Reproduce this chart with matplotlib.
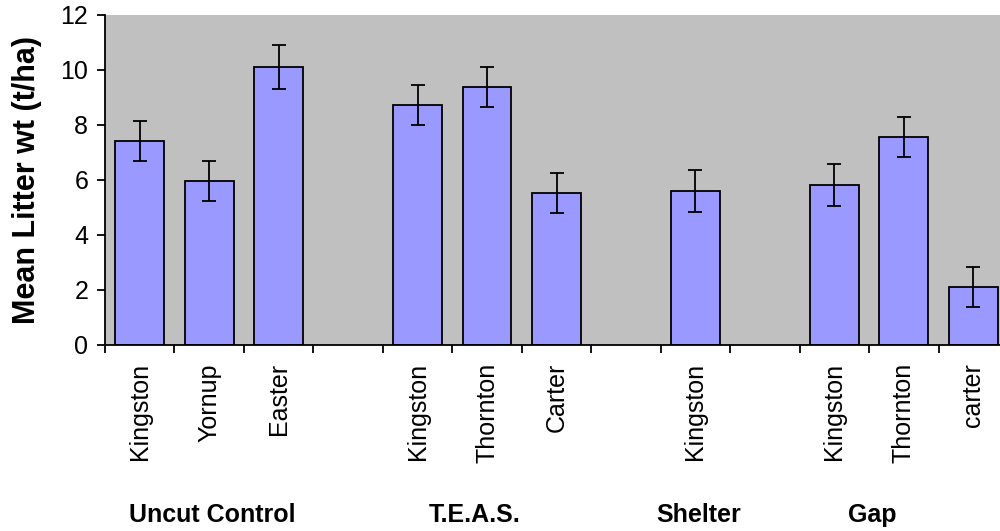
import numpy as np
import matplotlib
matplotlib.use('Agg')
import matplotlib.pyplot as plt
from matplotlib.transforms import blended_transform_factory

plt.rcParams['font.family'] = ['Liberation Sans', 'DejaVu Sans']

# category slots, empty strings are the gaps between treatments
sites = ['Kingston', 'Yornup', 'Easter', '',
         'Kingston', 'Thornton', 'Carter', '',
         'Kingston', '',
         'Kingston', 'Thornton', 'carter']
litter = [7.42, 5.96, 10.12, np.nan,
          8.73, 9.39, 5.53, np.nan,
          5.60, np.nan,
          5.82, 7.57, 2.10]
err = [0.73, 0.74, 0.80, np.nan,
       0.74, 0.73, 0.73, np.nan,
       0.77, np.nan,
       0.77, 0.73, 0.73]

groups = ['Uncut Control', 'T.E.A.S.', 'Shelter', 'Gap']
group_x = [1.04, 4.82, 8.05, 10.54]

fig = plt.figure(figsize=(10, 5.31), dpi=100)
ax = fig.add_axes([0.105, 0.3503, 0.903, 0.6215])
ax.set_facecolor('#C0C0C0')

x = np.arange(len(sites))
ax.bar(x, litter, width=0.7, color='#9999FF', edgecolor='black', linewidth=1.3,
       zorder=2)
ax.errorbar(x, litter, yerr=err, fmt='none', ecolor='black', elinewidth=1.3,
            capsize=4.7, capthick=1.3, zorder=3)

ax.set_xlim(-0.5, len(sites) - 0.5)
ax.set_ylim(0, 12)
ax.set_yticks(np.arange(0, 13, 2))
ax.tick_params(axis='y', direction='out', length=6, width=1.3, labelsize=18, pad=6)

ax.set_xticks(x)
ax.set_xticklabels(sites, rotation=90, fontsize=18)
ax.tick_params(axis='x', which='major', length=0, pad=13)
ax.set_xticks(np.arange(-0.5, len(sites), 1), minor=True)
ax.tick_params(axis='x', which='minor', direction='out', length=6, width=1.3)

for s in ['top', 'right']:
    ax.spines[s].set_visible(False)
for s in ['left', 'bottom']:
    ax.spines[s].set_linewidth(1.3)
    ax.spines[s].set_zorder(4)

ax.set_ylabel('Mean Litter wt (t/ha)', fontsize=22, fontweight='bold')
ax.yaxis.set_label_coords(-0.07, 0.5)

trans = blended_transform_factory(ax.transData, fig.transFigure)
for name, gx in zip(groups, group_x):
    ax.text(gx, 0.030, name, transform=trans, ha='center', va='center',
            fontsize=18, fontweight='bold')

fig.savefig('out.png', dpi=100)
